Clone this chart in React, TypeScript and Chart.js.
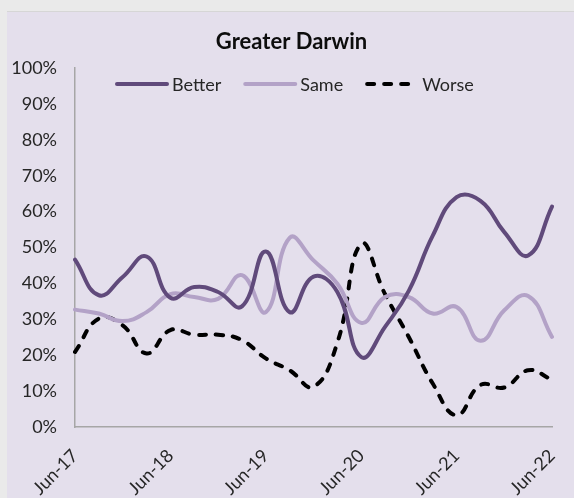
import React, { useEffect, useRef } from 'react';
import { Chart, registerables } from 'chart.js';

Chart.register(...registerables);

const quarters = [
  'Jun-17', 'Sep-17', 'Dec-17', 'Mar-18',
  'Jun-18', 'Sep-18', 'Dec-18', 'Mar-19',
  'Jun-19', 'Sep-19', 'Dec-19', 'Mar-20',
  'Jun-20', 'Sep-20', 'Dec-20', 'Mar-21',
  'Jun-21', 'Sep-21', 'Dec-21', 'Mar-22',
  'Jun-22',
];

const better = [46.6, 36.7, 41.8, 47.5, 36, 39, 37.6, 33.6, 48.9, 32, 41.9, 37.6, 19.5, 27.9, 38, 53.3, 64, 63, 54.3, 47.8, 61.4];
const same = [32.7, 31.6, 29.5, 32, 37, 36.2, 35.7, 42.3, 32, 52.7, 46.4, 39.9, 29, 36.2, 36.2, 31.6, 33.4, 24, 32.5, 36.5, 25.1];
const worse = [20.9, 30.2, 28.3, 20.5, 27, 25.7, 25.7, 24.2, 19.1, 15.8, 11.2, 23.5, 51, 37, 25, 12.1, 3.3, 11.7, 11, 15.8, 13.2];

const seriesNames = ['Better', 'Same', 'Worse'];
const seriesColors = ['#604A7B', '#B3A2C7', '#000000'];

const FONT = 'Lato, "Open Sans", sans-serif';

export default function App() {
  const ref = useRef<HTMLCanvasElement | null>(null);

  useEffect(() => {
    document.body.style.margin = '0';
    const canvas = ref.current;
    if (!canvas) return;

    const inlineLegend = {
      id: 'inlineLegend',
      afterDraw(chart: any) {
        const ctx = chart.ctx as CanvasRenderingContext2D;
        ctx.save();
        ctx.font = `18px ${FONT}`;
        ctx.textBaseline = 'middle';
        ctx.textAlign = 'left';
        let x = 110;
        const y = 72;
        chart.data.datasets.forEach((ds: any) => {
          const len = 50;
          ctx.beginPath();
          ctx.strokeStyle = ds.borderColor;
          ctx.lineWidth = ds.borderWidth;
          ctx.lineCap = ds.borderCapStyle || 'butt';
          ctx.setLineDash(ds.borderDash || []);
          ctx.moveTo(x, y);
          ctx.lineTo(x + len - (ds.borderDash ? 5 : 0), y);
          ctx.stroke();
          ctx.setLineDash([]);
          ctx.fillStyle = '#262626';
          const tx = x + len + 5;
          ctx.fillText(ds.label, tx, y + 1);
          x = tx + ctx.measureText(ds.label).width + 24;
        });
        ctx.restore();
      },
    };

    const tickFont = { family: FONT, size: 18 };

    const chart = new Chart(canvas, {
      type: 'line',
      data: {
        labels: quarters,
        datasets: [
          {
            label: seriesNames[0],
            data: better,
            borderColor: seriesColors[0],
            backgroundColor: seriesColors[0],
            borderWidth: 4,
            tension: 0.45,
            pointRadius: 0,
            borderCapStyle: 'round',
          },
          {
            label: seriesNames[1],
            data: same,
            borderColor: seriesColors[1],
            backgroundColor: seriesColors[1],
            borderWidth: 4,
            tension: 0.45,
            pointRadius: 0,
            borderCapStyle: 'round',
          },
          {
            label: seriesNames[2],
            data: worse,
            borderColor: seriesColors[2],
            backgroundColor: seriesColors[2],
            borderWidth: 4,
            tension: 0.45,
            pointRadius: 0,
            borderDash: [7, 10],
            borderCapStyle: 'round',
          },
        ],
      },
      options: {
        responsive: false,
        animation: false,
        devicePixelRatio: 1,
        layout: { padding: { left: 2, right: 0, top: 0, bottom: 0 } },
        plugins: {
          legend: { display: false },
          tooltip: { enabled: false },
          title: {
            display: true,
            text: 'Greater Darwin',
            color: '#0D0D0D',
            font: { family: FONT, size: 22, weight: 'bold' },
            padding: { top: 17, bottom: 12.6 },
          },
        },
        scales: {
          x: {
            grid: { display: false, drawTicks: false },
            border: { display: true, color: '#A6A6A6', width: 1.5 },
            ticks: {
              autoSkip: false,
              minRotation: 45,
              maxRotation: 45,
              padding: 18,
              color: '#262626',
              font: tickFont,
              callback: (_v: any, i: number) => (i % 4 === 0 ? quarters[i] : ''),
            },
            afterFit: (s: any) => {
              s.height = 71;
              s.paddingLeft = 0;
              s.paddingRight = 22;
            },
          },
          y: {
            min: 0,
            max: 100,
            grid: { display: false, drawTicks: false },
            border: { display: true, color: '#A6A6A6', width: 1.5 },
            ticks: {
              stepSize: 10,
              padding: 18,
              color: '#262626',
              font: tickFont,
              callback: (v: any) => `${v}%`,
            },
            afterFit: (s: any) => {
              s.width = 66;
            },
          },
        },
      },
      plugins: [inlineLegend],
    } as any);

    return () => chart.destroy();
  }, []);

  return (
    <div style={{ position: 'relative', width: 574, height: 498, background: '#EAEAEA', overflow: 'hidden' }}>
      <div
        style={{
          position: 'absolute',
          left: 7,
          top: 11,
          width: 567,
          height: 486,
          background: '#E4DFEC',
          borderTop: '1px solid #D6D6D6',
        }}
      >
        <canvas ref={ref} width={567} height={486} style={{ display: 'block', width: 567, height: 486 }} />
      </div>
    </div>
  );
}
